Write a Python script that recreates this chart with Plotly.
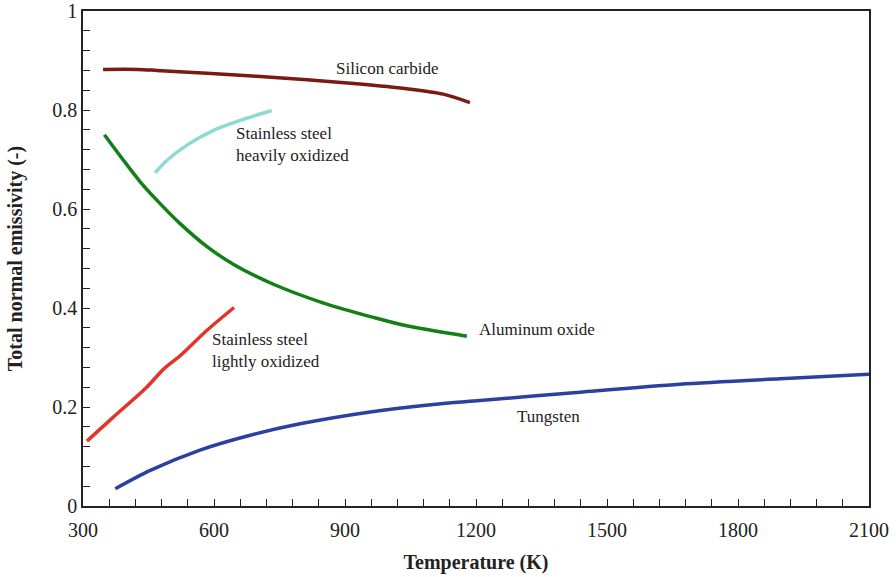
import plotly.graph_objects as go

# Silicon carbide
sic_T = [346, 424, 469, 584, 698, 813, 927, 1041, 1125, 1186]
sic_e = [0.882, 0.882, 0.880, 0.874, 0.868, 0.861, 0.853, 0.843, 0.832, 0.815]

# Aluminum oxide
al_T = [349, 393, 431, 469, 523, 584, 645, 736, 851, 965, 1041, 1179]
al_e = [0.750, 0.698, 0.655, 0.618, 0.570, 0.524, 0.488, 0.448, 0.410, 0.381, 0.364, 0.343]

# Stainless steel heavily oxidized
ssh_T = [465, 492, 538, 599, 660, 732]
ssh_e = [0.673, 0.698, 0.729, 0.759, 0.779, 0.799]

# Stainless steel lightly oxidized
ssl_T = [309, 370, 446, 484, 523, 584, 646]
ssl_e = [0.131, 0.180, 0.240, 0.276, 0.304, 0.355, 0.401]

# Tungsten
w_T = [374, 454, 568, 683, 797, 950, 1102, 1209, 1438, 1667, 1896, 2100]
w_e = [0.035, 0.072, 0.113, 0.143, 0.166, 0.189, 0.205, 0.213, 0.230, 0.246, 0.257, 0.266]

series = [
    (sic_T, sic_e, "#7a1a12"),
    (al_T, al_e, "#138016"),
    (ssh_T, ssh_e, "#8cd9d5"),
    (ssl_T, ssl_e, "#e2352a"),
    (w_T, w_e, "#2c40a0"),
]

labels = [
    (996, 0.884, "Silicon carbide", "center"),
    (646, 0.730, "Stainless steel<br>heavily oxidized", "left"),
    (1203, 0.357, "Aluminum oxide", "left"),
    (590, 0.314, "Stainless steel<br>lightly oxidized", "left"),
    (1367, 0.181, "Tungsten", "center"),
]

fig = go.Figure()
for T, e, c in series:
    fig.add_trace(go.Scatter(x=T, y=e, mode="lines", line=dict(color=c, width=3.5, shape="spline", smoothing=0.8),
                             showlegend=False, hoverinfo="skip"))

for x, y, t, a in labels:
    fig.add_annotation(x=x, y=y, text=t, showarrow=False, xanchor=a, yanchor="middle", align="left",
                       font=dict(family="Liberation Serif", size=17, color="#222"))

axis_common = dict(showgrid=False, zeroline=False, showline=True, linecolor="#222", linewidth=1.5,
                   mirror=True, ticks="inside", ticklen=7, tickwidth=1.2, tickcolor="#222",
                   automargin=False,
                   tickfont=dict(family="Liberation Serif", size=20, color="#222"))

fig.update_xaxes(range=[300, 2100], dtick=300, tick0=300, ticklabelstandoff=5,
                 minor=dict(dtick=60, ticks="inside", ticklen=7, tickcolor="#222", tickwidth=1.2),
                 title=dict(text="<b>Temperature (K)</b>", font=dict(family="Liberation Serif", size=20, color="#222"), standoff=15),
                 **axis_common)
fig.update_yaxes(range=[0, 1], dtick=0.2, tick0=0,
                 minor=dict(dtick=0.04, ticks="inside", ticklen=7, tickcolor="#222", tickwidth=1.2),
                 title=dict(text="<b>Total normal emissivity (-)</b>", font=dict(family="Liberation Serif", size=20, color="#222"), standoff=24),
                 **axis_common)

fig.update_layout(width=896, height=577, margin=dict(l=83, r=27, t=11, b=71),
                  plot_bgcolor="white", paper_bgcolor="white")

fig.write_html("out.html")
